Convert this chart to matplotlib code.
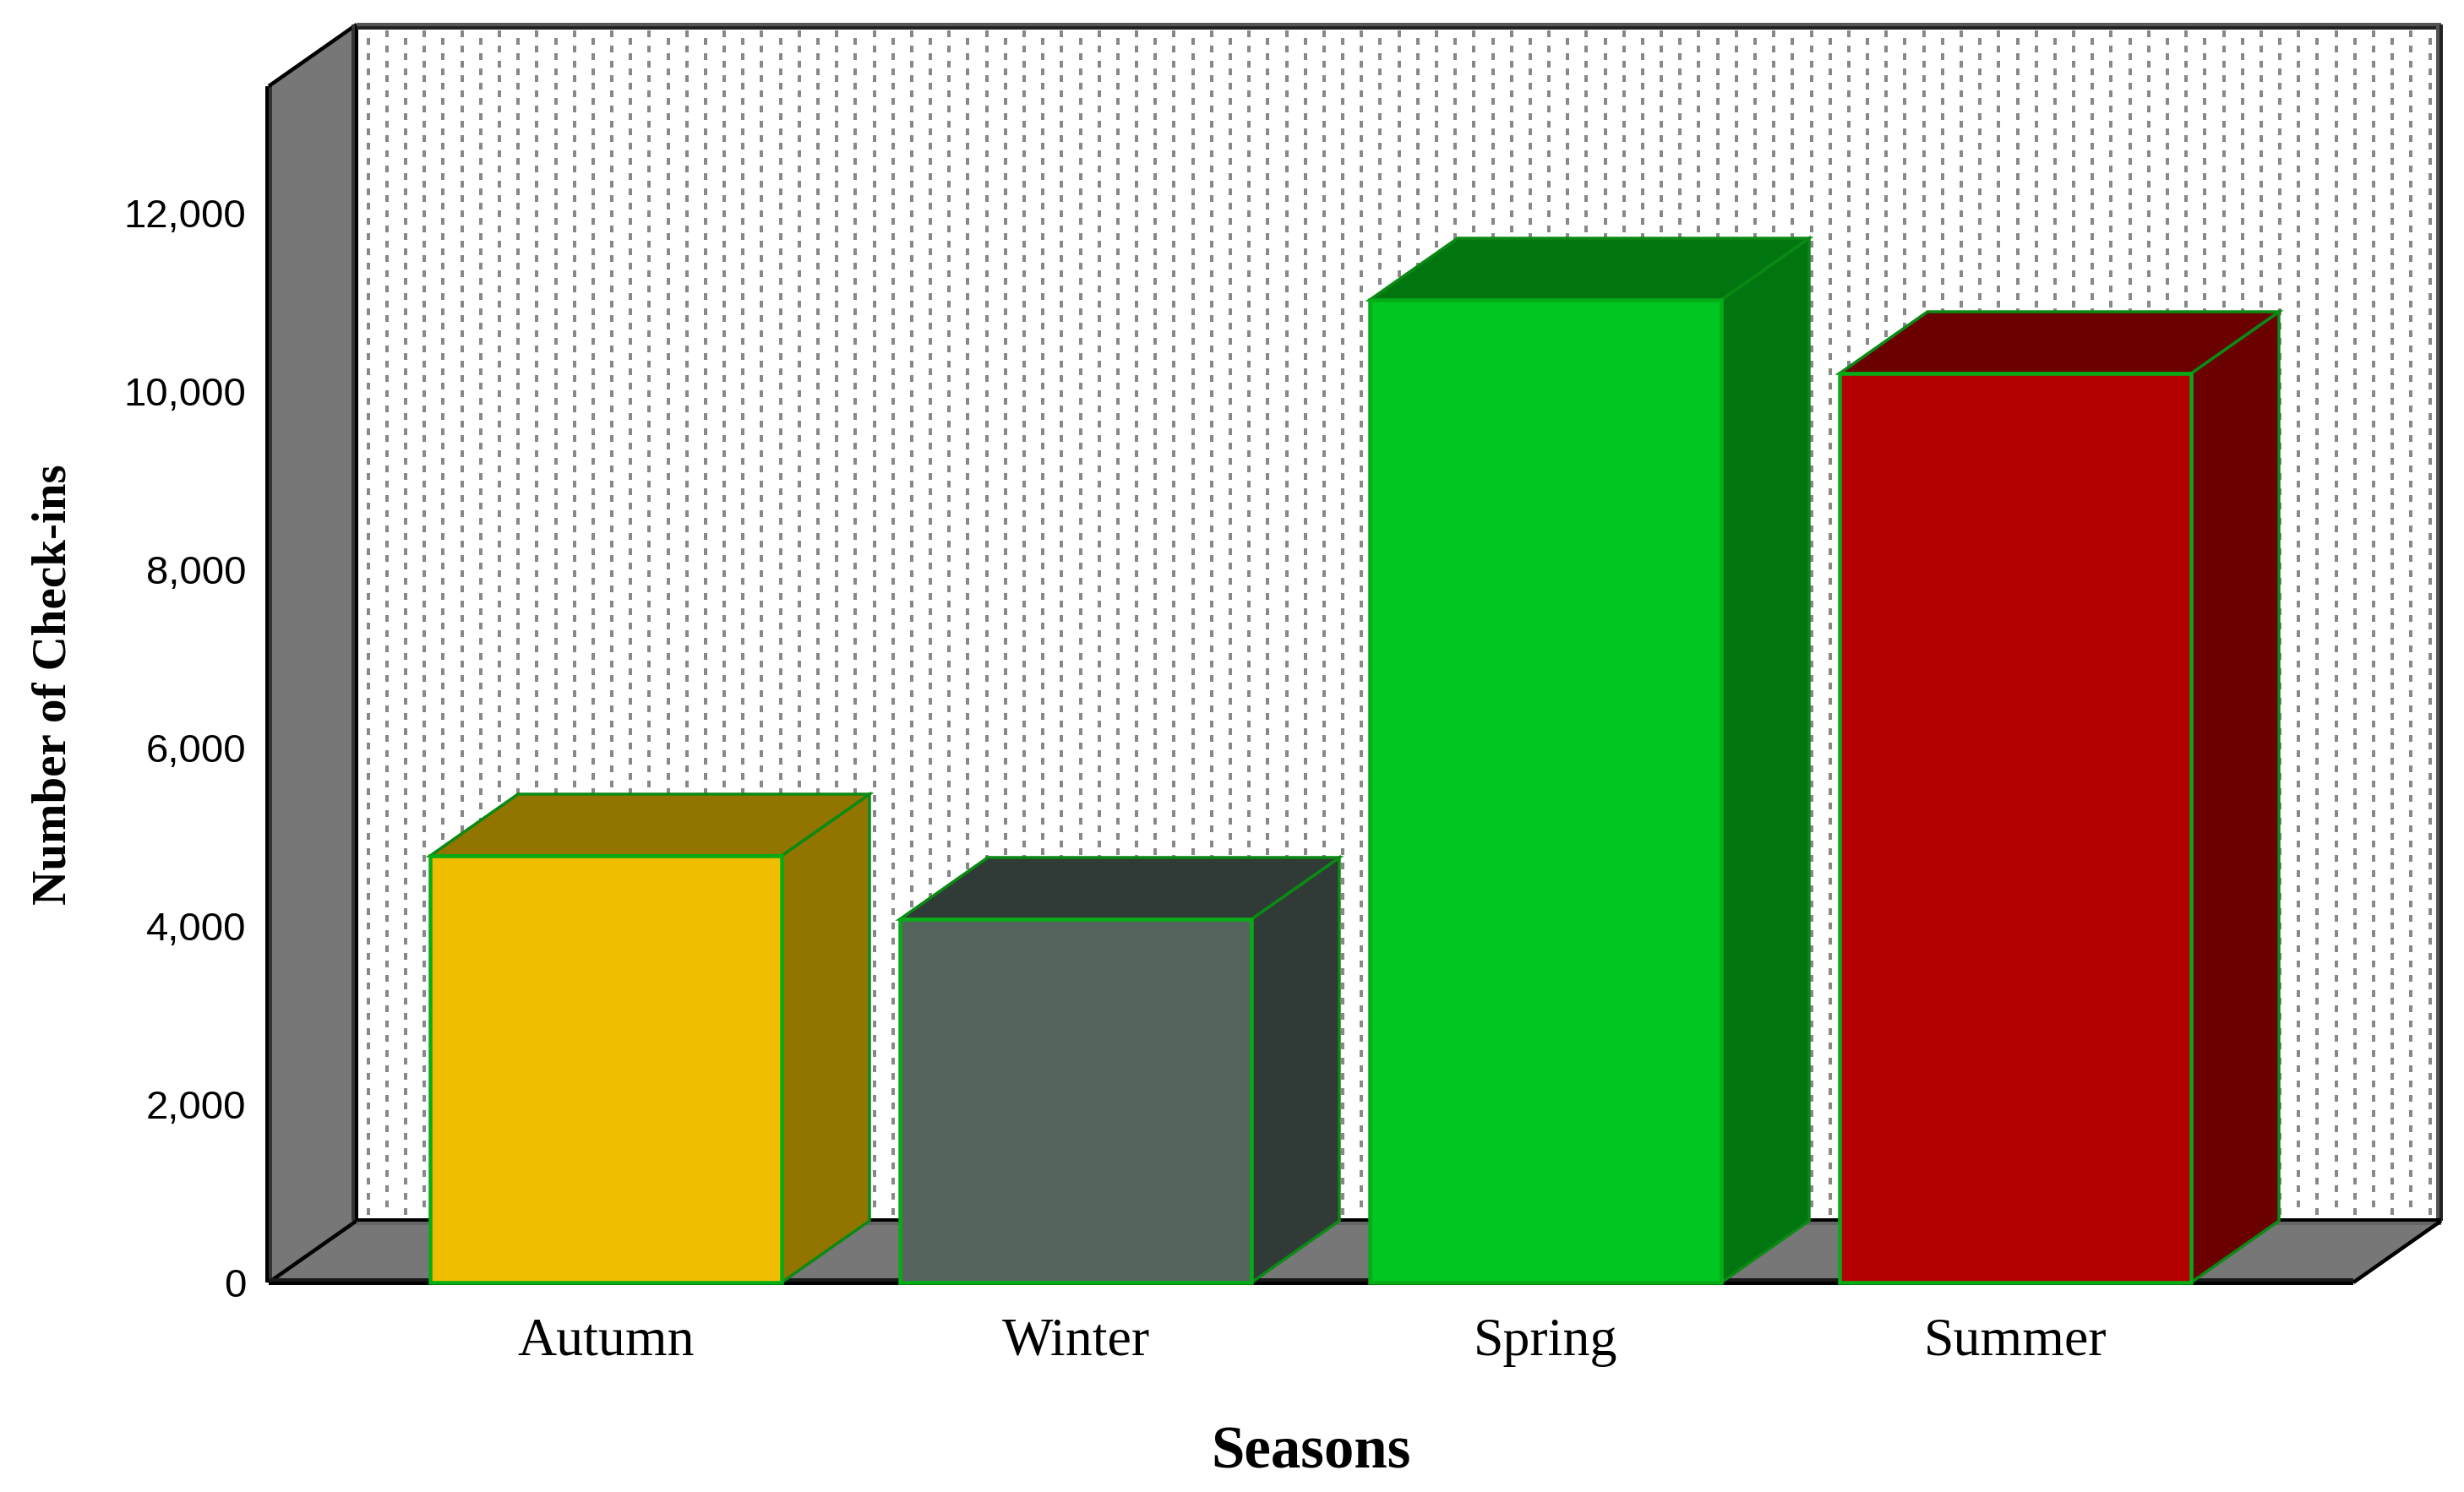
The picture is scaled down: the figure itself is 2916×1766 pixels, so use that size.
#!/usr/bin/env python3
"""Pseudo-3D bar chart of check-ins per season, saved as out.png."""
import numpy as np
import matplotlib
matplotlib.use("Agg")
import matplotlib.pyplot as plt
from matplotlib.collections import LineCollection
from matplotlib.transforms import IdentityTransform

seasons = ["Autumn", "Winter", "Spring", "Summer"]
checkins = [4787, 4076, 11024, 10199]
front_colors = ["#EFBE00", "#55645C", "#00C622", "#B40000"]
side_colors = ["#927500", "#303A36", "#007510", "#6B0000"]
yticks = [0, 2000, 4000, 6000, 8000, 10000, 12000]

W, H = 2916, 1766
DPI = 100
SERIF = "Liberation Serif"
SANS = "Liberation Sans"
EDGE = "#06AC16"
SIDE_EDGE = "#0A8A14"
WALL = "#777777"

fig = plt.figure(figsize=(W / DPI, H / DPI), dpi=DPI, facecolor="white")

# axes = the front plane of the box, everything else hangs off it by a depth offset
left, right, top, bottom = 318, 2785, 102, 1518
ax = fig.add_axes([left / W, 1 - bottom / H, (right - left) / W, (bottom - top) / H])
ax.patch.set_visible(False)
spacing = 556
per_unit = 0.1055
ax.set_xlim((left - 717) / spacing, (right - 717) / spacing)
ax.set_ylim(0, (bottom - top) / per_unit)
for s in ax.spines.values():
    s.set_visible(False)

dx = 104 / spacing
dy = 73 / per_unit
px = lambda n: n * 72 / DPI  # line widths are easier to think of in pixels
ox = 1 / spacing
oy = 1 / per_unit

x0, x1 = ax.get_xlim()
y0, y1 = ax.get_ylim()

# floor and left wall
ax.fill([x0, x1, x1 + dx, x0 + dx], [y0, y0, y0 + dy, y0 + dy], color=WALL, lw=0, zorder=1, clip_on=False)
ax.fill([x0, x0 + dx, x0 + dx, x0], [y0, y0 + dy, y1 + dy, y1], color=WALL, lw=0, zorder=1, clip_on=False)

# dotted back wall
xs = 435.7 + 22.18 * np.arange(111)
segs = []
for i, x in enumerate(xs):
    start = 49 if i % 2 == 0 else 40
    for y in np.arange(start, 1440, 17.75):
        segs.append([(x, H - y + 4), (x, H - y - 4)])
fig.add_artist(LineCollection(segs, colors="#888888", linewidths=px(4), capstyle="butt",
                              transform=IdentityTransform(), zorder=0))

# box outline, the long edges are two-tone in the original
lines = [
    ([x0 - 2 * ox, x0 - 2 * ox], [y0, y1], "black", 4),
    ([x0 + 2 * ox, x0 + 2 * ox], [y0, y1], "#333333", 4),
    ([x0, x0 + dx], [y1, y1 + dy], "black", 4.5),
    ([x0 + dx - 4 * ox, x0 + dx - 4 * ox], [y0 + dy, y1 + dy], "#333333", 4),
    ([x0 + dx, x0 + dx], [y0 + dy, y1 + dy], "black", 4),
    ([x0 + dx, x1 + dx], [y1 + dy, y1 + dy], "#555555", 4),
    ([x0 + dx, x1 + dx], [y1 + dy - 4 * oy, y1 + dy - 4 * oy], "#222222", 4),
    ([x1 + dx - 4 * ox, x1 + dx - 4 * ox], [y0 + dy, y1 + dy], "#555555", 4),
    ([x1 + dx, x1 + dx], [y0 + dy, y1 + dy], "#222222", 4),
    ([x0, x0 + dx], [y0, y0 + dy], "black", 4.5),
    ([x0 + dx, x1 + dx], [y0 + dy - 3 * oy, y0 + dy - 3 * oy], "#666666", 4),
    ([x0 + dx, x1 + dx], [y0 + dy + oy, y0 + dy + oy], "black", 4),
    ([x1, x1 + dx], [y0, y0 + dy], "black", 4.5),
    ([x0, x1], [y0 + 3 * oy, y0 + 3 * oy], "#1a1a1a", 4),
    ([x0, x1], [y0 - oy, y0 - oy], "black", 4),
]
for lx, ly, c, w in lines:
    ax.plot(lx, ly, color=c, lw=px(w), zorder=2, clip_on=False, solid_capstyle="butt")

# bars: side and top first, then the front face
bw = 416 / spacing
for i, (val, fc, sc) in enumerate(zip(checkins, front_colors, side_colors)):
    a, b = i - bw / 2, i + bw / 2
    ax.fill([b, b + dx, b + dx, b], [0, dy, val + dy, val], fc=sc, ec=SIDE_EDGE, lw=px(3.5), zorder=3, clip_on=False)
    ax.fill([a, a + dx, b + dx, b], [val, val + dy, val + dy, val], fc=sc, ec=SIDE_EDGE, lw=px(3.5), zorder=3, clip_on=False)
ax.bar(range(len(seasons)), checkins, width=bw, color=front_colors, edgecolor=EDGE,
       linewidth=px(4.5), zorder=4, clip_on=False)

ax.set_yticks(yticks)
ax.set_yticklabels([f"{v:,}" for v in yticks], family=SANS, fontsize=34)
ax.set_xticks(range(len(seasons)))
ax.set_xticklabels(seasons, family=SERIF, fontsize=46)
ax.tick_params(axis="y", length=0, pad=19)
ax.tick_params(axis="x", length=0, pad=30)

ax.set_xlabel("Seasons", family=SERIF, fontsize=51, fontweight="bold", labelpad=50)
ax.set_ylabel("Number of Check-ins", family=SERIF, fontsize=41, fontweight="bold")
ax.yaxis.set_label_coords((90 - left) / (right - left), (bottom - 810) / (bottom - top))

fig.savefig("out.png", dpi=DPI)
